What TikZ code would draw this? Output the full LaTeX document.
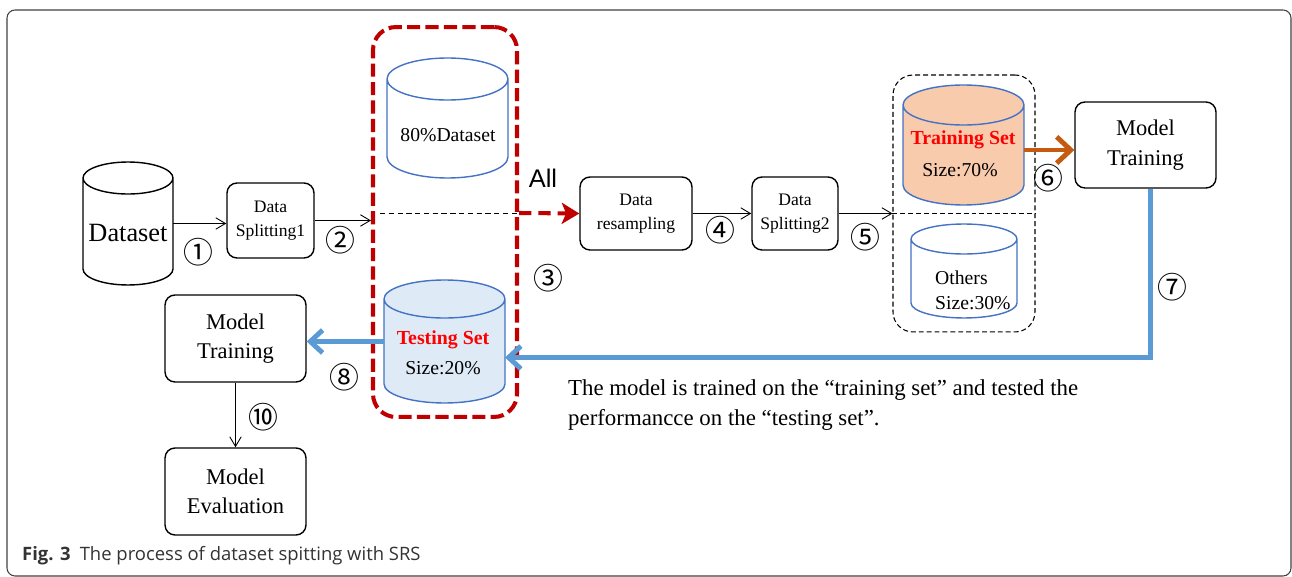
\documentclass[tikz,border=0pt]{standalone}
\usepackage{fontspec}
\setmainfont{Liberation Serif}
\newfontfamily\numfont{Noto Sans CJK SC}
\newfontfamily\capfont{Open Sans}
\newfontfamily\allfont{Liberation Sans}
\usetikzlibrary{arrows.meta}
\definecolor{darkred}{HTML}{C00000}
\definecolor{lineblue}{HTML}{5B9BD5}
\definecolor{cylblue}{HTML}{4472C4}
\definecolor{testfill}{HTML}{DEEBF7}
\definecolor{trainfill}{HTML}{F8CBAD}
\definecolor{burnt}{HTML}{C55A11}
\definecolor{capgray}{HTML}{333333}
% cylinder round a named node: name, x radius, y radius, style
\newcommand\dbcylinder[4]{%
  \draw[#4] ([yshift=-#3]#1.north west) -- ([yshift=#3]#1.south west)
    arc[start angle=180, end angle=360, x radius=#2, y radius=#3]
    -- ([yshift=-#3]#1.north east)
    arc[start angle=0, end angle=180, x radius=#2, y radius=#3]
    arc[start angle=180, end angle=360, x radius=#2, y radius=#3];
}
\tikzset{
  procbox/.style={draw, rounded corners=0.2cm, line width=0.8pt, align=center, inner sep=0pt},
  dbnode/.style={inner sep=0pt, outer sep=0pt},
  cylline/.style={draw=cylblue, line width=0.8pt},
  num/.style={font=\numfont\fontsize{17}{17}\selectfont},
  thinarrow/.style={-{Straight Barb[length=5.5pt,width=6.5pt]}, line width=0.5pt},
  fs/.style={font=\fontsize{#1}{#1}\selectfont},
  redlabel/.style={text=red, font=\fontsize{11.3}{11.3}\selectfont\bfseries}
}
\begin{document}
\begin{tikzpicture}[x=0.02cm, y=-0.02cm]
\useasboundingbox (0,0) rectangle (1292,577);
\draw[line width=0.6pt, black!75, rounded corners=0.16cm] (7,10) rectangle (1291,576);

% left part
\node[dbnode, minimum width=1.8cm, minimum height=2.46cm] (dataset) at (128,223.5) {};
\dbcylinder{dataset}{0.9cm}{0.32cm}{draw=black, line width=0.8pt}
\node[fs=15] (datasettxt) at (128,233) {Dataset};
\node[procbox, fs=10, minimum width=1.74cm, minimum height=1.5cm] (split1) at (270.5,220.5) {Data\\[4pt]Splitting1};
\draw[thinarrow] (dataset.east) -- (dataset.east -| split1.west);
\node[num] (n1) at (198,252) {①};

% red group
\node[draw=darkred, line width=2.3pt, dash pattern=on 7.5pt off 3pt, rounded corners=0.46cm, minimum width=2.88cm, minimum height=7.8cm] (grpbox) at (445,222) {};
\draw[thinarrow] (split1.east) -- (split1.east -| grpbox.west);
\node[num] (n2) at (340,240) {②};
\node[dbnode, minimum width=2.42cm, minimum height=2.4cm] (d80) at (447.5,118) {};
\dbcylinder{d80}{1.21cm}{0.42cm}{cylline}
\node[fs=11.2] (d80txt) at (448,135) {80\%Dataset};
\node[dbnode, minimum width=2.42cm, minimum height=2.46cm] (testset) at (444.5,341.5) {};
\dbcylinder{testset}{1.21cm}{0.38cm}{cylline, fill=testfill}
\node[redlabel] (testtxt) at (443,340) {Testing Set};
\node[fs=11.2] (testsize) at (443,368) {Size:20\%};
\coordinate (cut) at (380,213);
\draw[line width=0.5pt, dash pattern=on 3pt off 2pt] (cut) -- (cut -| grpbox.east);

% middle
\node[procbox, fs=10, minimum width=2.24cm, minimum height=1.46cm] (resample) at (636,213.5) {Data\\[4pt]resampling};
\node[procbox, fs=10, minimum width=1.72cm, minimum height=1.46cm] (split2) at (795,213.5) {Data\\[4pt]Splitting2};
\draw[darkred, line width=2.3pt, dash pattern=on 7pt off 4pt, -{Stealth[length=10pt,width=12pt,inset=2.5pt]}] (cut -| grpbox.east) -- (resample.west);
\node[font=\allfont\fontsize{14.5}{14.5}\selectfont] (all) at (543,178) {All};
\node[num] (n3) at (548,278) {③};
\draw[thinarrow] (resample.east) -- (split2.west);
\node[num] (n4) at (720,230) {④};

% right split
\node[draw, dash pattern=on 2.8pt off 1.7pt, line width=0.6pt, rounded corners=0.4cm, minimum width=2.84cm, minimum height=5.14cm] (splitbox) at (964,203.5) {};
\draw[thinarrow] (split2.east) -- (split2.east -| splitbox.west);
\draw[line width=0.5pt, dash pattern=on 2.8pt off 1.7pt] (split2.east -| splitbox.west) -- (split2.east -| splitbox.east);
\node[num] (n5) at (865,237) {⑤};
\node[dbnode, minimum width=2.42cm, minimum height=2.4cm] (trainset) at (963.5,145) {};
\dbcylinder{trainset}{1.21cm}{0.4cm}{cylline, fill=trainfill}
\node[redlabel] (traintxt) at (963,140) {Training Set};
\node[fs=11.2] (trainsize) at (960,170) {Size:70\%};
\node[dbnode, minimum width=2.12cm, minimum height=1.88cm] (others) at (964,271) {};
\dbcylinder{others}{1.06cm}{0.3cm}{cylline}
\node[fs=11.2, align=left, anchor=west] (otherstxt) at (929,290) {Others\\[3pt]Size:30\%};

\node[procbox, fs=12.8, minimum width=2.82cm, minimum height=1.72cm] (trainR) at (1145.5,145) {Model\\[4pt]Training};
\draw[burnt, line width=2.8pt, -{Straight Barb[length=8pt,width=15pt]}] ([yshift=-0.1cm]trainset.east) -- ([yshift=-0.1cm]trainset.east -| trainR.west);
\node[num] (n6) at (1048,178) {⑥};
\draw[lineblue, line width=2.8pt, -{Straight Barb[length=7pt,width=13pt]}] ([xshift=0.1cm]trainR.south) |- ([yshift=-0.32cm]testset.east);
\node[num] (n7) at (1172,287) {⑦};
\node[fs=13, align=left, anchor=west] (note) at (562,405) {The model is trained on the “training set” and tested the\\[4pt]performancce on the “testing set”.};

% bottom left
\node[procbox, fs=12.8, minimum width=2.82cm, minimum height=1.74cm] (trainL) at (235.5,338.5) {Model\\[4pt]Training};
\draw[lineblue, line width=2.8pt, -{Straight Barb[length=7pt,width=13pt]}] (testset.west) -- (testset.west -| trainL.east);
\node[num] (n8) at (344,377) {⑧};
\node[procbox, fs=12.8, minimum width=2.82cm, minimum height=1.74cm] (evalbox) at (235.5,491.5) {Model\\[4pt]Evaluation};
\draw[thinarrow] (trainL.south) -- (evalbox.north);
\node[num] (n10) at (263,417) {⑩};

\node[anchor=west, text=capgray, font=\capfont\fontsize{10.5}{10.5}\selectfont] (caption) at (16,556) {\textbf{Fig. 3}\hspace{0.5em}The process of dataset spitting with SRS};
\end{tikzpicture}
\end{document}
